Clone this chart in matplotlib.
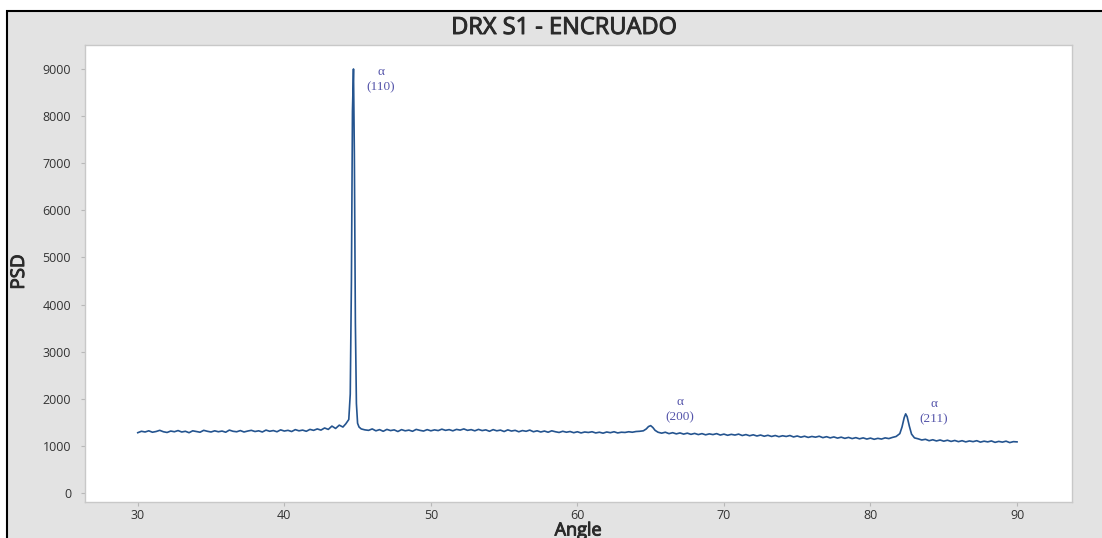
import matplotlib
matplotlib.use("Agg")
import matplotlib.pyplot as plt
from matplotlib.patches import Rectangle
import matplotlib.patheffects as pe

# ---- data ----
angle = [
    30.00, 30.25, 30.50, 30.75, 31.00, 31.25, 31.50, 31.75, 32.00, 32.25,
    32.50, 32.75, 33.00, 33.25, 33.50, 33.75, 34.00, 34.25, 34.50, 34.75,
    35.00, 35.25, 35.50, 35.75, 36.00, 36.25, 36.50, 36.75, 37.00, 37.25,
    37.50, 37.75, 38.00, 38.25, 38.50, 38.75, 39.00, 39.25, 39.50, 39.75,
    40.00, 40.25, 40.50, 40.75, 41.00, 41.25, 41.50, 41.75, 42.00, 42.25,
    42.50, 42.75, 43.00, 43.25, 43.50, 43.75, 44.00,
    44.20, 44.40, 44.50, 44.58, 44.65, 44.72, 44.78, 44.85, 44.92, 45.00, 45.10, 45.25, 45.50,
    45.75, 46.00, 46.25, 46.50, 46.75, 47.00, 47.25, 47.50, 47.75, 48.00,
    48.25, 48.50, 48.75, 49.00, 49.25, 49.50, 49.75, 50.00, 50.25, 50.50,
    50.75, 51.00, 51.25, 51.50, 51.75, 52.00, 52.25, 52.50, 52.75, 53.00,
    53.25, 53.50, 53.75, 54.00, 54.25, 54.50, 54.75, 55.00, 55.25, 55.50,
    55.75, 56.00, 56.25, 56.50, 56.75, 57.00, 57.25, 57.50, 57.75, 58.00,
    58.25, 58.50, 58.75, 59.00, 59.25, 59.50, 59.75, 60.00, 60.25, 60.50,
    60.75, 61.00, 61.25, 61.50, 61.75, 62.00, 62.25, 62.50, 62.75, 63.00,
    63.25, 63.50, 63.75, 64.00, 64.25,
    64.50, 64.70, 64.85, 65.00, 65.15, 65.30, 65.50,
    65.75, 66.00, 66.25, 66.50, 66.75, 67.00, 67.25, 67.50, 67.75, 68.00,
    68.25, 68.50, 68.75, 69.00, 69.25, 69.50, 69.75, 70.00, 70.25, 70.50,
    70.75, 71.00, 71.25, 71.50, 71.75, 72.00, 72.25, 72.50, 72.75, 73.00,
    73.25, 73.50, 73.75, 74.00, 74.25, 74.50, 74.75, 75.00, 75.25, 75.50,
    75.75, 76.00, 76.25, 76.50, 76.75, 77.00, 77.25, 77.50, 77.75, 78.00,
    78.25, 78.50, 78.75, 79.00, 79.25, 79.50, 79.75, 80.00, 80.25, 80.50,
    80.75, 81.00, 81.25, 81.50, 81.75,
    82.00, 82.15, 82.30, 82.40, 82.50, 82.65, 82.80, 83.00,
    83.25, 83.50, 83.75, 84.00, 84.25, 84.50, 84.75, 85.00, 85.25, 85.50,
    85.75, 86.00, 86.25, 86.50, 86.75, 87.00, 87.25, 87.50, 87.75, 88.00,
    88.25, 88.50, 88.75, 89.00, 89.25, 89.50, 89.75, 90.00,
]

psd = [
    1280, 1310, 1295, 1320, 1290, 1305, 1330, 1300, 1285, 1315,
    1300, 1325, 1295, 1310, 1280, 1320, 1305, 1290, 1330, 1310,
    1295, 1320, 1300, 1315, 1290, 1335, 1310, 1300, 1325, 1295,
    1315, 1330, 1305, 1320, 1295, 1335, 1310, 1325, 1300, 1340,
    1315, 1330, 1305, 1345, 1320, 1335, 1310, 1350, 1330, 1360,
    1335, 1380, 1350, 1420, 1370, 1440, 1400,
    1470, 1560, 2100, 4500, 8100, 9000, 7200, 3600, 1900, 1480, 1400, 1360, 1340,
    1330, 1360, 1320, 1345, 1310, 1350, 1325, 1340, 1305, 1345,
    1320, 1335, 1310, 1350, 1330, 1315, 1345, 1320, 1340, 1325,
    1355, 1330, 1345, 1320, 1350, 1335, 1360, 1330, 1345, 1320,
    1350, 1325, 1340, 1310, 1345, 1320, 1335, 1305, 1340, 1315,
    1330, 1300, 1325, 1310, 1335, 1300, 1320, 1295, 1315, 1290,
    1320, 1300, 1285, 1310, 1290, 1305, 1280, 1300, 1275, 1295,
    1285, 1300, 1275, 1290, 1270, 1295, 1280, 1300, 1275, 1290,
    1285, 1300, 1290, 1305, 1310,
    1320, 1360, 1410, 1430, 1390, 1330, 1290,
    1270, 1290, 1260, 1280, 1255, 1275, 1250, 1270, 1245, 1265,
    1240, 1260, 1235, 1255, 1240, 1260, 1230, 1250, 1225, 1245,
    1230, 1250, 1220, 1240, 1215, 1235, 1210, 1230, 1205, 1225,
    1200, 1220, 1195, 1215, 1200, 1220, 1190, 1210, 1185, 1205,
    1180, 1200, 1185, 1205, 1175, 1195, 1170, 1190, 1165, 1185,
    1160, 1180, 1155, 1175, 1150, 1170, 1145, 1165, 1140, 1160,
    1145, 1170, 1155, 1180, 1200,
    1260, 1400, 1600, 1680, 1620, 1420, 1250, 1170,
    1150, 1125, 1140, 1110, 1130, 1105, 1125, 1100, 1120, 1095,
    1115, 1090, 1110, 1085, 1105, 1090, 1110, 1080, 1100, 1085,
    1105, 1075, 1095, 1080, 1100, 1070, 1090, 1085,
]

peak_labels = ["α\n(110)", "α\n(200)", "α\n(211)"]
peak_label_x = [46.6, 67.0, 84.3]
peak_label_y = [8780, 1770, 1720]

x_ticks = [30, 40, 50, 60, 70, 80, 90]
y_ticks = [0, 1000, 2000, 3000, 4000, 5000, 6000, 7000, 8000, 9000]

# ---- figure ----
W, H = 1102, 538
fig = plt.figure(figsize=(W / 100, H / 100), dpi=100, facecolor="white")

# grey window panel with black frame on left/top
fig.patches.append(Rectangle((7 / W, -0.05), 1.2, 1 - 11 / H + 0.05,
                             transform=fig.transFigure, facecolor="#e3e3e3",
                             edgecolor="black", linewidth=1.5, zorder=-10))

ax = fig.add_axes([85 / W, 1 - 502 / H, (1072 - 85) / W, (502 - 45) / H])
ax.set_zorder(5)
ax.set_facecolor("white")
ax.plot(angle, psd, color="#24548f", linewidth=1.2)

ax.set_xlim(26.4, 93.75)
ax.set_ylim(-191, 9509)
ax.set_xticks(x_ticks)
ax.set_yticks(y_ticks)
ax.tick_params(axis="both", labelsize=9, colors="#b8b8b8", labelcolor="#333333",
               length=3, width=0.8)
ax.tick_params(axis="x", pad=2)
ax.tick_params(axis="y", pad=7)
for lab in ax.get_xticklabels() + ax.get_yticklabels():
    lab.set_fontfamily("Open Sans")

for s in ax.spines.values():
    s.set_color("#c8c8c8")
    s.set_linewidth(1.0)

for t, x, y in zip(peak_labels, peak_label_x, peak_label_y):
    ax.text(x, y, t, ha="center", va="center", fontsize=9.5,
            family="Liberation Serif", color="#5555aa", linespacing=1.35)

bold = [pe.withStroke(linewidth=0.7, foreground="#2a2a2a")]
fig.text(564 / W, 1 - 34 / H, "DRX S1 - ENCRUADO", ha="center", va="baseline",
         fontsize=17, family="Open Sans", color="#2a2a2a", path_effects=bold)
fig.text(19 / W, 1 - 272 / H, "PSD", ha="center", va="center", rotation=90,
         fontsize=13.5, family="Open Sans", color="#2a2a2a", path_effects=bold)
fig.text(578 / W, 1 - 535.5 / H, "Angle", ha="center", va="baseline",
         fontsize=13, family="Open Sans", color="#2a2a2a", path_effects=bold)

fig.savefig("out.png", dpi=100, facecolor="white")
